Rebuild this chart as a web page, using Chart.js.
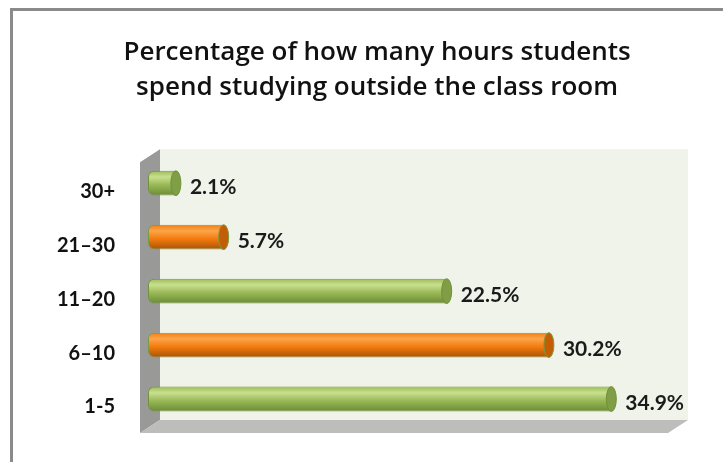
<!DOCTYPE html>
<html>
<head>
<meta charset="utf-8">
<script src="https://cdn.jsdelivr.net/npm/chart.js@4/dist/chart.umd.min.js"></script>
<style>
  html, body { margin: 0; padding: 0; background: #fff; overflow: hidden; }
  #frame {
    position: absolute; left: 10px; top: 8px;
    width: 728px; height: 460px;
    border-top: 3px solid #8a8a8a; border-left: 3px solid #8a8a8a;
  }
  canvas { display: block; }
</style>
</head>
<body>
<div id="frame"><canvas id="chart" width="728" height="460"></canvas></div>
<script>
const titleLines = ['Percentage of how many hours students', 'spend studying outside the class room'];
const categories = ['30+', '21\u201330', '11\u201320', '6\u201310', '1-5'];
const percentages = [2.1, 5.7, 22.5, 30.2, 34.9];

// green / orange alternate like the original
const GREEN = { light: '#c9e08f', mid: '#9bbb59', dark: '#6b8a34', cap: '#7f9e45', edge: '#71913a' };
const ORANGE = { light: '#fba54a', mid: '#f57d10', dark: '#a85205', cap: '#c25e06', edge: '#7a9a40' };
const pal = i => (i % 2 === 0 ? GREEN : ORANGE);

const wallsPlugin = {
    id: 'walls',
    beforeDatasetsDraw(chart) {
        const { ctx, chartArea: a } = chart;
        ctx.save();
        // left wall
        ctx.fillStyle = '#999a98';
        ctx.beginPath();
        ctx.moveTo(a.left - 8, a.top + 6);
        ctx.lineTo(a.left + 12, a.top - 7);
        ctx.lineTo(a.left + 12, a.bottom - 6);
        ctx.lineTo(a.left - 8, a.bottom + 7);
        ctx.closePath();
        ctx.fill();
        // back wall
        ctx.fillStyle = '#f0f3ea';
        ctx.fillRect(a.left + 12, a.top - 7, a.right + 9 - (a.left + 12), a.bottom - 6 - (a.top - 7));
        // floor
        ctx.fillStyle = '#bdbebb';
        ctx.beginPath();
        ctx.moveTo(a.left - 8, a.bottom + 7);
        ctx.lineTo(a.left + 12, a.bottom - 6);
        ctx.lineTo(a.right + 9, a.bottom - 6);
        ctx.lineTo(a.right - 11, a.bottom + 7);
        ctx.closePath();
        ctx.fill();
        ctx.restore();

        // cylinder shading for each bar
        const meta = chart.getDatasetMeta(0);
        meta.data.forEach((el, i) => {
            const p = pal(i);
            const h = el.height;
            const g = ctx.createLinearGradient(0, el.y - h / 2, 0, el.y + h / 2);
            g.addColorStop(0, p.mid);
            g.addColorStop(0.25, p.light);
            g.addColorStop(0.55, p.mid);
            g.addColorStop(1, p.dark);
            el.options.backgroundColor = g;
        });
    },
    afterDatasetsDraw(chart) {
        const { ctx } = chart;
        const meta = chart.getDatasetMeta(0);
        ctx.save();
        meta.data.forEach((el, i) => {
            const p = pal(i);
            const ry = el.height / 2;
            ctx.beginPath();
            ctx.ellipse(el.x, el.y, 5, ry, 0, 0, Math.PI * 2);
            ctx.fillStyle = p.cap;
            ctx.fill();
            ctx.lineWidth = 1;
            ctx.strokeStyle = p.edge;
            ctx.stroke();

            ctx.fillStyle = '#1a1a1a';
            ctx.font = 'bold 21px Lato';
            ctx.textAlign = 'left';
            ctx.textBaseline = 'middle';
            ctx.fillText(percentages[i].toFixed(1) + '%', el.x + 14, el.y + 4);
        });
        ctx.restore();
    }
};

new Chart(document.getElementById('chart').getContext('2d'), {
    type: 'bar',
    data: {
        labels: categories,
        datasets: [{
            data: percentages,
            backgroundColor: ctx => pal(ctx.dataIndex).mid,
            borderColor: ctx => pal(ctx.dataIndex).edge,
            borderWidth: 1,
            borderSkipped: false,
            borderRadius: { topLeft: 6, bottomLeft: 6, topRight: 0, bottomRight: 0 },
            barPercentage: 0.46,
            categoryPercentage: 1
        }]
    },
    options: {
        indexAxis: 'y',
        responsive: false,
        animation: false,
        layout: { padding: { left: 0, right: 0, top: 0, bottom: 45 } },
        plugins: {
            legend: { display: false },
            tooltip: { enabled: false },
            title: {
                display: true,
                text: titleLines,
                color: '#111',
                font: { family: 'Open Sans', size: 26, weight: '600', lineHeight: 1.35 },
                padding: { top: 24, bottom: 51 }
            }
        },
        scales: {
            x: {
                display: false,
                min: 0,
                max: 40
            },
            y: {
                afterFit: s => { s.width = 135; },
                grid: { display: false, drawTicks: false },
                border: { display: false },
                ticks: {
                    color: '#111',
                    font: { family: 'Lato', size: 20, weight: 'bold' },
                    padding: 33,
                    labelOffset: 8
                }
            },
            // empty right-hand gutter for the value labels
            yRight: {
                position: 'right',
                afterFit: s => { s.width = 62; },
                grid: { display: false, drawTicks: false },
                border: { display: false },
                ticks: { display: false }
            }
        }
    },
    plugins: [wallsPlugin]
});
</script>
</body>
</html>
